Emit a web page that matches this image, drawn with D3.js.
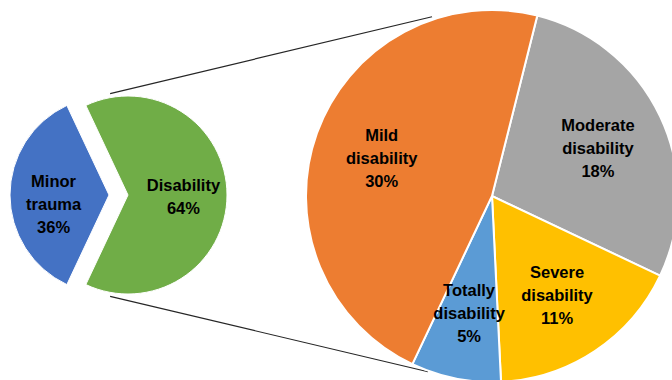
<!DOCTYPE html>
<html>
<head>
<meta charset="utf-8">
<script src="https://cdn.jsdelivr.net/npm/d3@7/dist/d3.min.js"></script>
<style>
  html, body { margin: 0; padding: 0; background: #fff; }
  svg { display: block; }
  text { font-family: "Liberation Sans", Arial, sans-serif; font-weight: bold; font-size: 16.5px; fill: #000; }
</style>
</head>
<body>
<svg id="chart" width="672" height="380"></svg>
<script>
// Main split: minor trauma vs. disability (percent of all cases)
const mainCategories = ["Minor trauma", "Disability"];
const mainValues = [36, 64];
const mainColors = ["#4472C4", "#70AD47"];

// Breakdown of the disability share (percent of all cases)
const detailCategories = ["Moderate disability", "Severe disability", "Totally disability", "Mild disability"];
const detailValues = [18, 11, 5, 30];
const detailColors = ["#A5A5A5", "#FFC000", "#5B9BD5", "#ED7D31"];

const svg = d3.select("#chart");
const deg = Math.PI / 180;

// Layout of the two pies
const small = { cx: 109, cy: 195, r: 99, explode: 19 };
const big = { cx: 492, cy: 196, r: 186, rotation: 14.1 * deg };

// ---- connector lines from the exploded slice to the breakdown pie ----
function polar(cx, cy, r, a) { return [cx + r * Math.sin(a), cy - r * Math.cos(a)]; }
const splitCx = small.cx + small.explode;
const connectors = [
  [polar(splitCx, small.cy, 103, -10 * deg), polar(big.cx, big.cy, big.r + 3, -18.5 * deg)],
  [polar(splitCx, small.cy, 103, 190 * deg), polar(big.cx, big.cy, big.r + 1, 200 * deg)]
];
svg.append("g").selectAll("line").data(connectors).join("line")
  .attr("x1", d => d[0][0]).attr("y1", d => d[0][1])
  .attr("x2", d => d[1][0]).attr("y2", d => d[1][1])
  .attr("stroke", "#262626").attr("stroke-width", 1.2);

// ---- main pie ----
const mainStart = 1.5 * Math.PI - (mainValues[0] / 100) * Math.PI;
const mainPie = d3.pie().sort(null)
  .startAngle(mainStart).endAngle(mainStart + 2 * Math.PI)
  .value(d => d.value);
const mainData = mainPie(mainCategories.map((c, i) => ({ name: c, value: mainValues[i], color: mainColors[i] })));
const mainArc = d3.arc().innerRadius(0).outerRadius(small.r);
const mainLabelArc = d3.arc().innerRadius(small.r * 0.56).outerRadius(small.r * 0.56);

const gMain = svg.append("g");
mainData.forEach((d, i) => {
  const mid = (d.startAngle + d.endAngle) / 2;
  const off = i === 1 ? small.explode : 0;
  const cx = small.cx + off * Math.sin(mid), cy = small.cy - off * Math.cos(mid);
  const g = gMain.append("g").attr("transform", `translate(${cx},${cy})`);
  g.append("path").attr("d", mainArc(d)).attr("fill", d.data.color)
    .attr("stroke", "#fff").attr("stroke-width", 1);
  const [lx, ly] = mainLabelArc.centroid(d);
  drawLabel(g, lx, ly + (i === 0 ? 9 : 2), d.data.name, d.data.value);
});

// ---- breakdown pie ----
const detailPie = d3.pie().sort(null)
  .startAngle(big.rotation).endAngle(big.rotation + 2 * Math.PI)
  .value(d => d.value);
const detailData = detailPie(detailCategories.map((c, i) => ({ name: c, value: detailValues[i], color: detailColors[i] })));
const detailArc = d3.arc().innerRadius(0).outerRadius(big.r);
const detailLabelArc = d3.arc().innerRadius(big.r * 0.63).outerRadius(big.r * 0.63);

const gDetail = svg.append("g").attr("transform", `translate(${big.cx},${big.cy})`);
gDetail.selectAll("path").data(detailData).join("path")
  .attr("d", detailArc).attr("fill", d => d.data.color)
  .attr("stroke", "#fff").attr("stroke-width", 2);
detailData.forEach(d => {
  const [lx, ly] = detailLabelArc.centroid(d);
  drawLabel(gDetail, lx, ly + 2, d.data.name, d.data.value);
});

// Multi-line category label with the percentage on its own line
function drawLabel(g, x, y, name, value) {
  const lines = name.split(" ").concat([value + "%"]);
  const lh = 23;
  const top = y - (lines.length - 1) * lh / 2;
  const t = g.append("text").attr("text-anchor", "middle");
  lines.forEach((s, k) => {
    t.append("tspan").attr("x", x).attr("y", top + k * lh).attr("dy", "0.35em").text(s);
  });
}
</script>
</body>
</html>
